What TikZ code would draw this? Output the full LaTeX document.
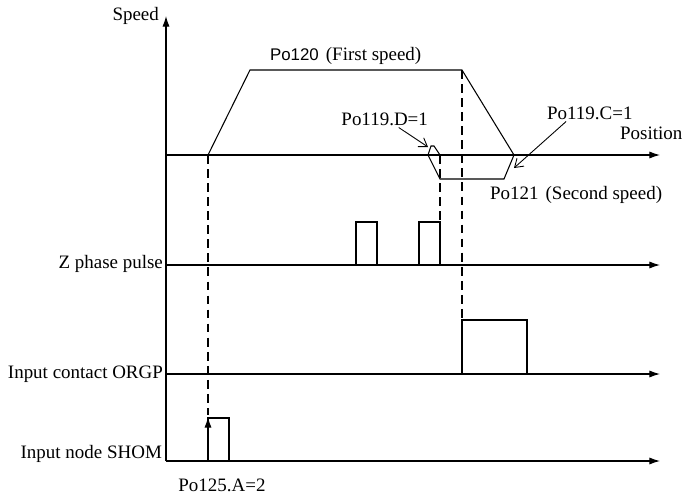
\documentclass[tikz,border=0pt]{standalone}
\usepackage{fontspec}
\setmainfont{Liberation Serif}
\newfontfamily\parsans{Liberation Sans}
\usetikzlibrary{arrows.meta}

\tikzset{
  axis/.style={line width=0.6pt, -{Latex[length=6pt,width=4pt]}},
  signal/.style={line width=0.6pt},
  guide/.style={line width=1.4pt, dash pattern=on 5pt off 3pt},
  pointer/.style={line width=0.5pt, -{Straight Barb[length=4.5pt,width=6pt]}},
  lbl/.style={inner sep=1pt}
}

\begin{document}
\begin{tikzpicture}[x=0.02cm, y=-0.02cm, font=\fontsize{10.8}{12}\selectfont]
    \useasboundingbox (0,0) rectangle (693,497);

    % Axes
    \coordinate (O) at (166,461);
    \coordinate (V) at (166,16);
    \coordinate (S) at (166,155);
    \coordinate (Z) at (166,265);
    \coordinate (G) at (166,374);
    \draw[axis] (O) -- (V);
    \draw[axis] (S) -- (660,155);
    \draw[axis] (Z) -- (660,265);
    \draw[axis] (G) -- (660,374);
    \draw[axis] (O) -- (660,461);

    \node[lbl, anchor=east] (speed) at (161,16) {Speed};
    \node[lbl, anchor=west] (pos) at (618,133) {Position};
    \node[lbl, anchor=east] (zlbl) at (165,264) {Z phase pulse};
    \node[lbl, anchor=east] (glbl) at (165,374) {Input contact ORGP};
    \node[lbl, anchor=base east] (hlbl) at (164,458) {Input node SHOM};

    % Speed profile
    \draw[signal] (208,155) -- (250,70) -- (462,70) -- (514,155)
        -- (504,179) -- (440,179) -- (428,155) -- (431,146) -- (434,146) -- (440,155);

    \node[lbl, anchor=west] (first) at (268,56) {{\parsans\fontsize{9.6}{12}\selectfont Po120}\hspace{4pt}(First speed)};
    \node[lbl, anchor=west] (second) at (488,195) {Po121\hspace{4pt}(Second speed)};
    \node[lbl, anchor=east] (lblD) at (430,119) {Po119.D=1};
    \node[lbl, anchor=west] (lblC) at (545,113) {Po119.C=1};

    \coordinate (camD) at (428,147);
    \coordinate (camC) at (514,168);
    \draw[pointer] ([xshift=8]lblD.south) -- (camD);
    \draw[pointer] ([xshift=12]lblC.south west) -- (camC);

    % Z phase pulses
    \draw[signal] (356,265) -- (356,222) -- (377,222) -- (377,265);
    \draw[signal] (419,265) -- (419,222) -- (440,222) -- (440,265);

    % ORGP and SHOM pulses
    \draw[signal] (462,374) -- (462,320) -- (527,320) -- (527,374);
    \draw[signal] (208,461) -- (208,418) -- (229,418) -- (229,461);
    \draw[signal, -{Latex[length=6pt,width=4pt]}] (208,461) -- (208,417);

    % Guides
    \draw[guide] (208,155) -- (208,415);
    \draw[guide] (462,70) -- (462,374);
    \draw[guide] (440,155) -- (440,222);

    \node[lbl] (home) at (222,485) {Po125.A=2};
\end{tikzpicture}
\end{document}
